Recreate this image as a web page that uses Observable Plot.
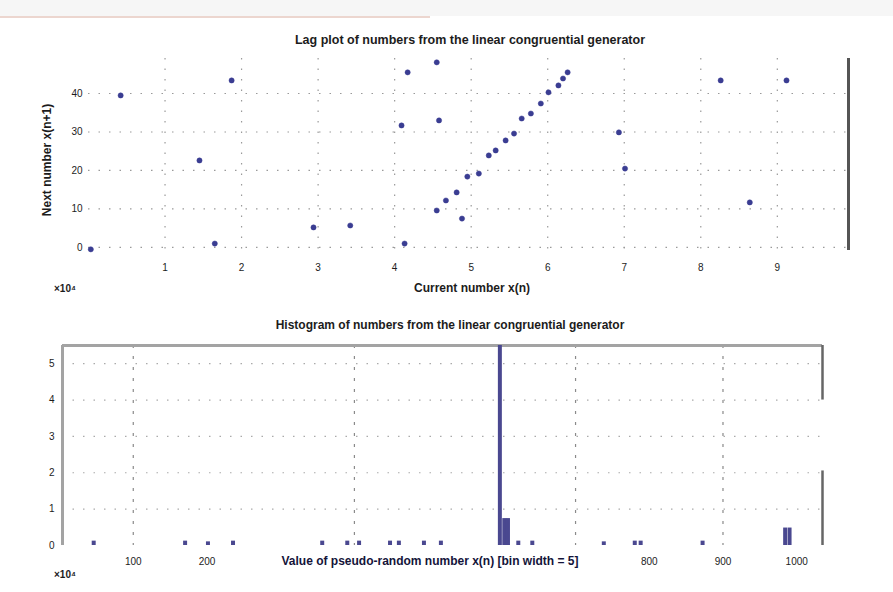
<!DOCTYPE html>
<html><head><meta charset="utf-8">
<script src="https://cdn.jsdelivr.net/npm/d3@7"></script>
<script src="https://cdn.jsdelivr.net/npm/@observablehq/plot@0.6"></script>
<style>
body{margin:0;background:#fff;font-family:"Liberation Sans",Arial,sans-serif;}
#wrap{position:relative;width:893px;height:592px;overflow:hidden;background:#fff;}
.band{position:absolute;left:0;top:0;width:893px;height:16px;background:#f6f6f6;}
.bandline{position:absolute;left:0;top:16px;width:430px;height:2px;background:#ecd6cf;}
.t{position:absolute;white-space:nowrap;color:#1c1c1c;}
.chart{position:absolute;left:0;}
</style></head><body>
<div id="wrap">
  <div class="band"></div><div class="bandline"></div>
  <div id="top" class="chart" style="top:0"></div>
  <div id="bot" class="chart" style="top:300px"></div>
</div>
<script>
// ---------- data: top scatter ----------
const scatterX = [4.13,4.55,4.67,4.81,4.95,5.10,5.23,5.32,5.45,5.56,5.66,5.78,5.91,6.01,6.14,6.20,6.26,
                  0.42,1.87,4.55,4.17,8.26,9.12,4.09,4.58,6.93,1.45,7.01,4.88,8.64,2.94,3.42,1.65,0.03];
const scatterY = [1.0,9.6,12.2,14.3,18.4,19.2,23.9,25.2,27.8,29.6,33.5,34.8,37.4,40.3,42.1,43.9,45.5,
                  39.5,43.4,48.1,45.5,43.4,43.4,31.7,33.0,29.9,22.6,20.5,7.5,11.7,5.2,5.7,1.0,-0.5];
const topXTicks = [1,2,3,4,5,6,7,8,9];
const topYTicks = [0,10,20,30,40];
const topXDomain = [0, 9.93];
const topYDomain = [-0.8, 49.1];

// ---------- data: bottom histogram ----------
const histCenters = [47,171,202,236,357,391,407,449,461,495,518,598,604,609,623,642,739,781,789,873,985,991];
const histCounts  = [0.12,0.12,0.1,0.12,0.12,0.12,0.12,0.12,0.12,0.12,0.12,5.5,0.74,0.74,0.12,0.12,0.1,0.12,0.12,0.12,0.48,0.48];
const botXTicks = [100,200,800,900,1000];
const botGridX = [100,400,700,900];
const botYTicks = [0,1,2,3,4,5];
const botXDomain = [4, 1035];
const botYDomain = [0, 5.5];

const titles = {
  top: "Lag plot of numbers from the linear congruential generator",
  topX: "Current number x(n)",
  topY: "Next number x(n+1)",
  bot: "Histogram of numbers from the linear congruential generator",
  botX: "Value of pseudo-random number x(n)  [bin width = 5]",
  mult: "×10⁴"
};

const ink = "#3a3d92";
const axisStyle = {fontSize: "10px", fontFamily: "Liberation Sans, Arial, sans-serif", color: "#1c1c1c", background: "transparent"};
const plain = d => String(d);

const pts = scatterX.map((x, i) => ({x, y: scatterY[i]}));
const topChart = Plot.plot({
  width: 893, height: 300,
  marginLeft: 88, marginRight: 45, marginTop: 58, marginBottom: 50,
  style: axisStyle,
  x: {domain: topXDomain, ticks: topXTicks, tickFormat: plain, tickSize: 0, tickPadding: 13, label: null},
  y: {domain: topYDomain, ticks: topYTicks, tickFormat: plain, tickSize: 0, tickPadding: 6, label: null},
  marks: [
    Plot.ruleX(topXTicks, {stroke: "#9a9a9a", strokeDasharray: "1.5,9", strokeWidth: 1.2}),
    Plot.ruleY(topYTicks, {stroke: "#9a9a9a", strokeDasharray: "1.5,9", strokeWidth: 1.2}),
    Plot.ruleX([topXDomain[1]], {y1: topYDomain[0], y2: topYDomain[1], stroke: "#555", strokeWidth: 3}),
    Plot.dot(pts, {x: "x", y: "y", r: 2.6, fill: ink, stroke: ink, strokeWidth: 0.5})
  ]
});
document.getElementById("top").appendChild(topChart);

const bins = histCenters.map((c, i) => ({x1: c - 2.7, x2: c + 2.7, y: histCounts[i]}));
const botChart = Plot.plot({
  width: 893, height: 292,
  marginLeft: 62, marginRight: 71, marginTop: 45, marginBottom: 47,
  style: axisStyle,
  x: {domain: botXDomain, ticks: botXTicks, tickFormat: plain, tickSize: 0, tickPadding: 12, label: null},
  y: {domain: botYDomain, ticks: botYTicks, tickFormat: plain, tickSize: 0, tickPadding: 8, label: null},
  marks: [
    Plot.ruleX(botGridX, {stroke: "#8a8a8a", strokeDasharray: "3,8", strokeWidth: 1.2}),
    Plot.ruleY(botYTicks.slice(1), {stroke: "#aaa", strokeDasharray: "1.5,9", strokeWidth: 1.2}),
    Plot.ruleY([botYDomain[1]], {stroke: "#a3a3a3", strokeWidth: 3}),
    Plot.ruleX([botXDomain[0]], {y1: botYDomain[0], y2: botYDomain[1], stroke: "#a3a3a3", strokeWidth: 3}),
    Plot.ruleX([botXDomain[1]], {y1: botYDomain[1] - 1.5, y2: botYDomain[1], stroke: "#666", strokeWidth: 2.5}),
    Plot.ruleX([botXDomain[1]], {y1: botYDomain[0], y2: 2.05, stroke: "#666", strokeWidth: 2.5}),
    Plot.rectY(bins, {x1: "x1", x2: "x2", y: "y", fill: "#4a4890"})
  ]
});
document.getElementById("bot").appendChild(botChart);

// ---------- text ----------
const wrap = document.getElementById("wrap");
function addText(txt, css) {
  const d = document.createElement("div");
  d.className = "t"; d.textContent = txt;
  Object.assign(d.style, css);
  wrap.appendChild(d);
  return d;
}
addText(titles.top, {left: "470px", top: "33px", transform: "translateX(-50%)", fontSize: "12.5px", fontWeight: "bold"});
addText(titles.topX, {left: "472px", top: "281px", transform: "translateX(-50%)", fontSize: "12px", fontWeight: "bold"});
addText(titles.topY, {left: "47px", top: "160px", transform: "translate(-50%,-50%) rotate(-90deg)", fontSize: "12px", fontWeight: "bold"});
addText(titles.mult, {left: "54px", top: "283px", fontSize: "10px", fontWeight: "bold"});
addText(titles.bot, {left: "450px", top: "318px", transform: "translateX(-50%)", fontSize: "12px", fontWeight: "bold"});
addText(titles.botX, {left: "430px", top: "554px", transform: "translateX(-50%)", fontSize: "12px", fontWeight: "bold", color: "#14143a"});
addText(titles.mult, {left: "54px", top: "569px", fontSize: "10px", fontWeight: "bold"});
</script>
</body></html>
